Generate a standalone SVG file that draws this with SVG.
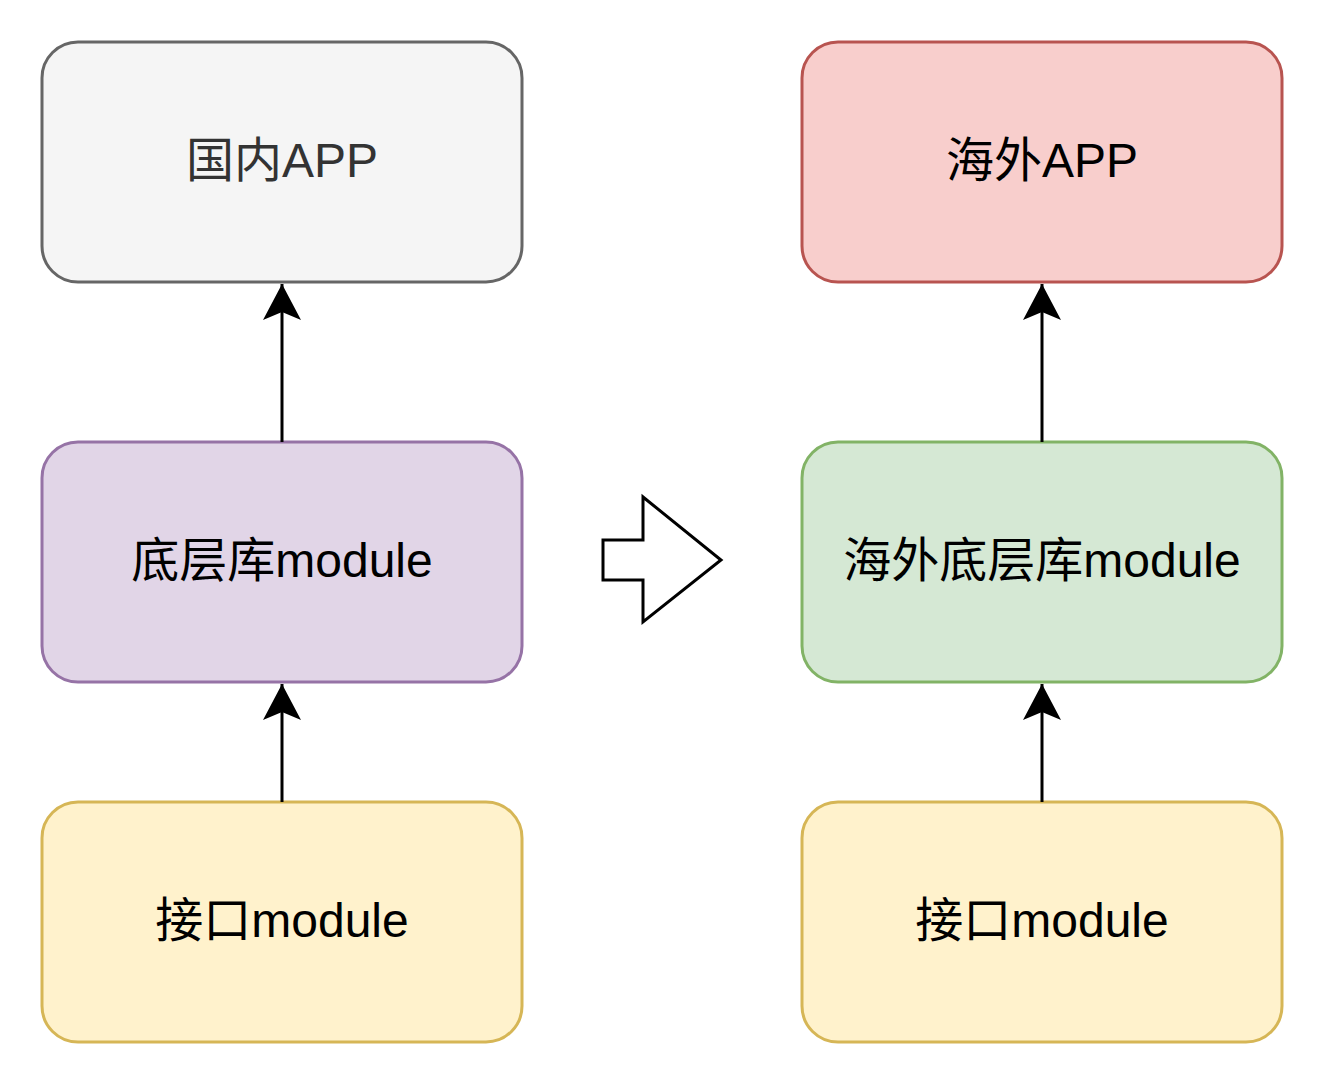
<svg xmlns="http://www.w3.org/2000/svg" width="1324" height="1084" viewBox="0 0 1324 1084">
<style>
.b{stroke-width:3}
.t{font-family:"Liberation Sans","Noto Sans CJK SC",sans-serif;font-size:48px;text-anchor:middle;fill:#000}
.c{stroke:#000;stroke-width:3;fill:none}
</style>
<defs>
<marker id="ah" markerUnits="userSpaceOnUse" markerWidth="40" markerHeight="40" viewBox="0 0 40 40" refX="36" refY="20" orient="auto">
<path d="M0,1 L36,20 L0,39 L8,20 Z" fill="#000"/>
</marker>
</defs>
<rect width="1324" height="1084" fill="#fff"/>
<g id="n1"><rect class="b" x="42" y="42" width="480" height="240" rx="36" fill="#f5f5f5" stroke="#666666"/><text class="t" x="282" y="177" style="fill:#333333">国内APP</text></g>
<g id="n2"><rect class="b" x="42" y="442" width="480" height="240" rx="36" fill="#e1d5e7" stroke="#9673a6"/><text class="t" x="282" y="577">底层库module</text></g>
<g id="n3"><rect class="b" x="42" y="802" width="480" height="240" rx="36" fill="#fff2cc" stroke="#d6b656"/><text class="t" x="282" y="937">接口module</text></g>
<g id="n4"><rect class="b" x="802" y="42" width="480" height="240" rx="36" fill="#f8cecc" stroke="#b85450"/><text class="t" x="1042" y="177">海外APP</text></g>
<g id="n5"><rect class="b" x="802" y="442" width="480" height="240" rx="36" fill="#d5e8d4" stroke="#82b366"/><text class="t" x="1042" y="577">海外底层库module</text></g>
<g id="n6"><rect class="b" x="802" y="802" width="480" height="240" rx="36" fill="#fff2cc" stroke="#d6b656"/><text class="t" x="1042" y="937">接口module</text></g>
<g id="n7"><polygon points="603,540 643,540 643,497 721,560 643,622 643,580 603,580" fill="#fff" stroke="#000" stroke-width="3"/></g>
<g id="connectors">
<line class="c" x1="282" y1="442" x2="282" y2="284" marker-end="url(#ah)"/>
<line class="c" x1="282" y1="802" x2="282" y2="684" marker-end="url(#ah)"/>
<line class="c" x1="1042" y1="442" x2="1042" y2="284" marker-end="url(#ah)"/>
<line class="c" x1="1042" y1="802" x2="1042" y2="684" marker-end="url(#ah)"/>
</g>
</svg>
